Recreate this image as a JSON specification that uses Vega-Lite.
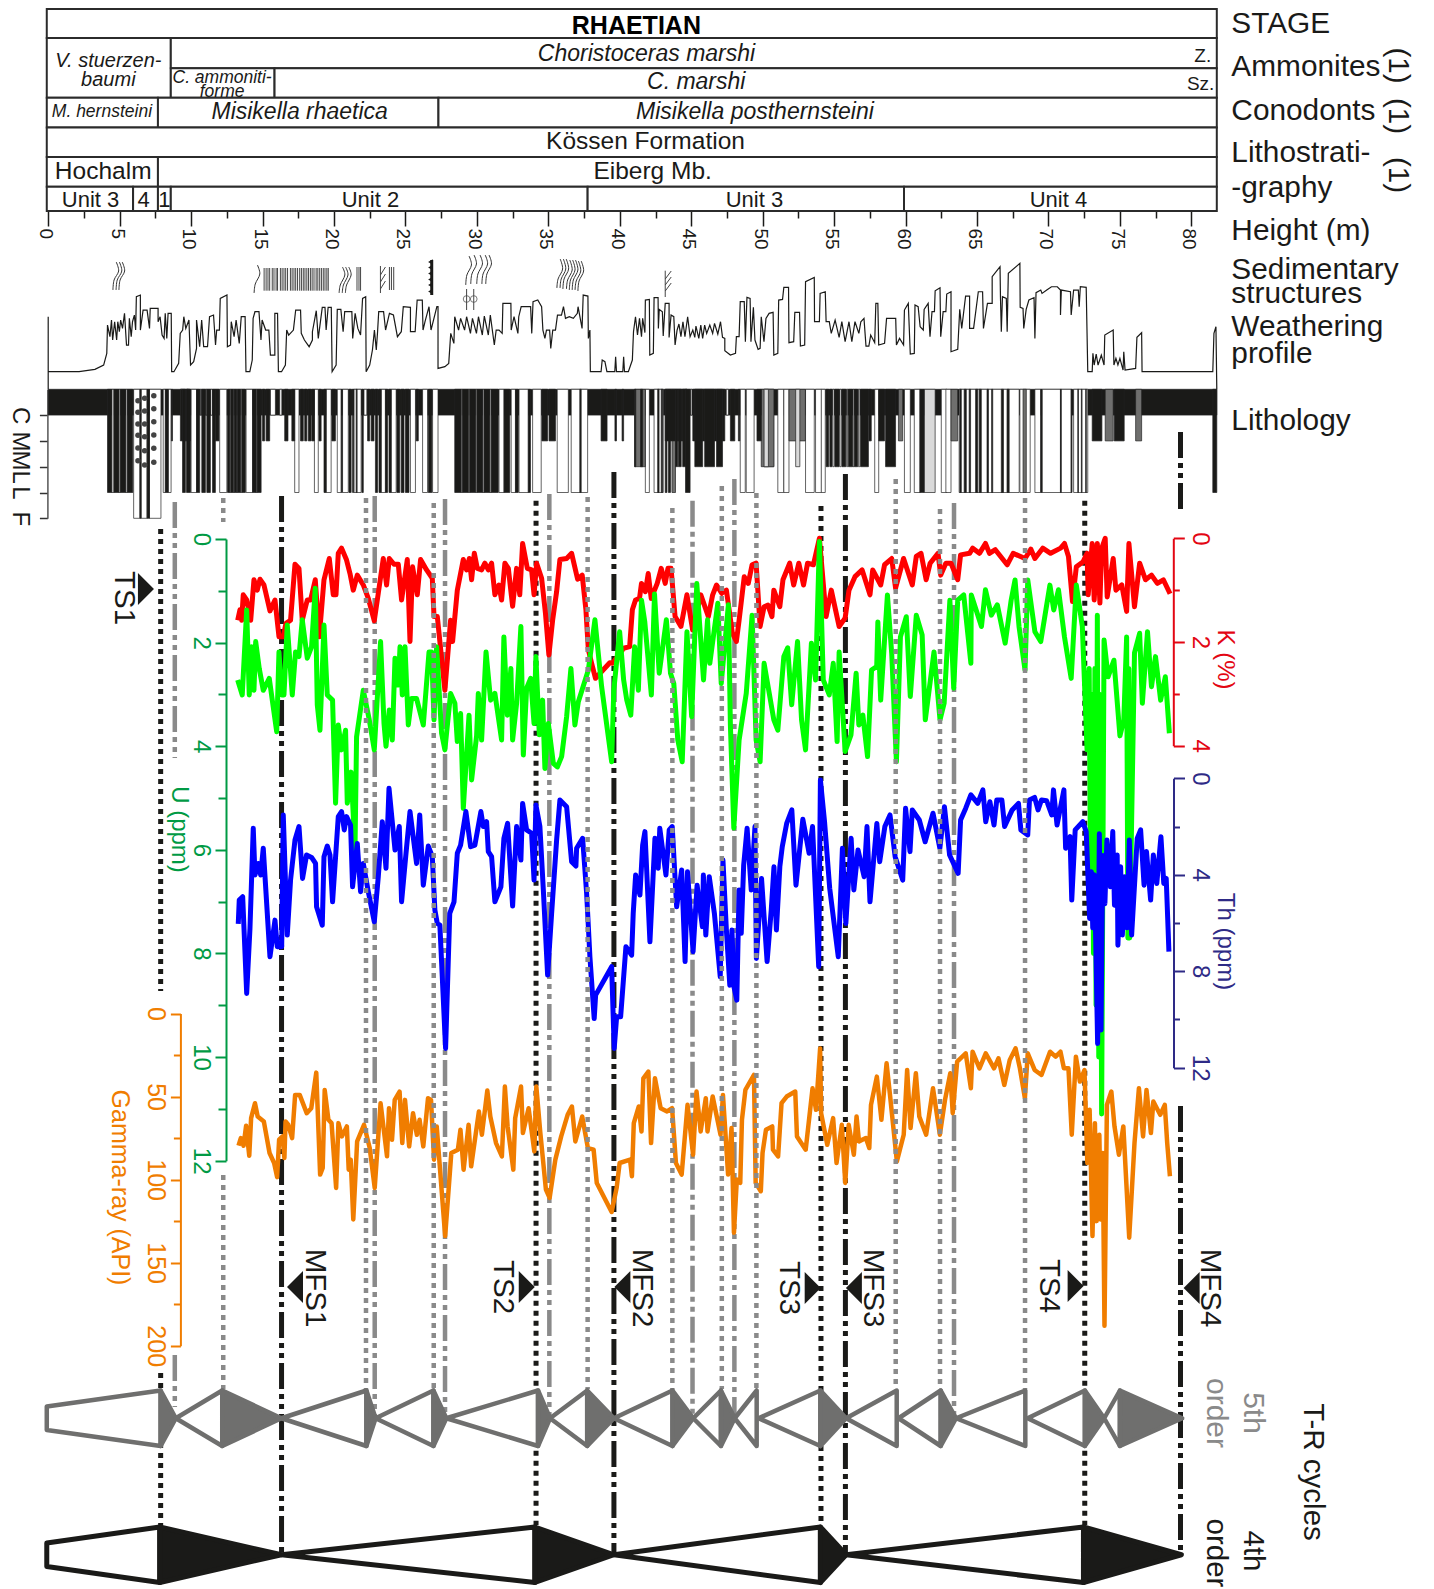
{"$schema":"https://vega.github.io/schema/vega-lite/v6.json","width":1434,"height":1589,"padding":0,"autosize":"none","background":"#ffffff",
"config":{"view":{"stroke":null},"font":"Liberation Sans","axis":{"grid":false,"labelFont":"Liberation Sans","titleFont":"Liberation Sans","titleFontWeight":"normal"}},
"encoding":{"x":{"field":"m","type":"quantitative","scale":{"domain":[-3.373,96.98],"range":[0,1434]},"axis":{"orient":"bottom","offset":-1378,"title":null,"domain":false,"values":[0,2.5,5,7.5,10,12.5,15,17.5,20,22.5,25,27.5,30,32.5,35,37.5,40,42.5,45,47.5,50,52.5,55,57.5,60,62.5,65,67.5,70,72.5,75,77.5,80],"tickColor":"#1a1a18","tickWidth":1.5,"tickSize":{"condition":{"test":"datum.value % 5 == 0","value":15},"value":7},"labelExpr":"datum.value % 5 == 0 ? datum.value : ''","labelAngle":90,"labelAlign":"left","labelBaseline":"middle","labelFontSize":19,"labelColor":"#1a1a18","labelPadding":2,"labelOffset":-2.5,"labelOverlap":false}}},
"resolve":{"scale":{"y":"independent","fill":"independent"},"axis":{"y":"independent"}},
"layer":[
{"data":{"values":[{"m":-0.1,"b":81.78,"t":0.9,"e":3.8},{"m":-0.1,"b":8.58,"t":3.8,"e":9.78},{"m":8.58,"b":81.78,"t":3.8,"e":6.82},{"m":8.58,"b":15.84,"t":6.82,"e":9.78},{"m":15.84,"b":81.78,"t":6.82,"e":9.78},{"m":-0.1,"b":7.68,"t":9.78,"e":12.74},{"m":7.68,"b":27.31,"t":9.78,"e":12.74},{"m":27.31,"b":81.78,"t":9.78,"e":12.74},{"m":-0.1,"b":81.78,"t":12.74,"e":15.7},{"m":-0.1,"b":7.68,"t":15.7,"e":18.68},{"m":7.68,"b":81.78,"t":15.7,"e":18.68},{"m":-0.1,"b":5.94,"t":18.68,"e":21.1},{"m":5.94,"b":7.68,"t":18.68,"e":21.1},{"m":7.68,"b":8.58,"t":18.68,"e":21.1},{"m":8.58,"b":37.75,"t":18.68,"e":21.1},{"m":37.75,"b":59.89,"t":18.68,"e":21.1},{"m":59.89,"b":81.78,"t":18.68,"e":21.1}]},
"mark":{"type":"rect","fill":"#ffffff","stroke":"#2b2b2b","strokeWidth":2},"encoding":{"x2":{"field":"b"},"y":{"field":"t","type":"quantitative","scale":{"domain":[0,158.9],"range":[0,1589]},"axis":null},"y2":{"field":"e"}}},
{"data":{"values":[{"t":"RHAETIAN","m":41.16,"y":2.6}]},"mark":{"type":"text","fontSize":25,"fontWeight":"bold","color":"#000000","baseline":"middle"},"encoding":{"text":{"field":"t"},"y":{"field":"y","type":"quantitative","scale":{"domain":[0,158.9],"range":[0,1589]},"axis":null}}},
{"data":{"values":[{"t":"Choristoceras marshi","m":41.87,"y":5.35},{"t":"C. marshi","m":45.35,"y":8.2},{"t":"Misikella rhaetica","m":17.6,"y":11.2},{"t":"Misikella posthernsteini","m":49.46,"y":11.2}]},"mark":{"type":"text","fontSize":23,"fontStyle":"italic","color":"#1a1a18","baseline":"middle"},"encoding":{"text":{"field":"t"},"y":{"field":"y","type":"quantitative","scale":{"domain":[0,158.9],"range":[0,1589]},"axis":null}}},
{"data":{"values":[{"t":"V. stuerzen-","m":4.21,"y":6.05},{"t":"baumi","m":4.21,"y":7.95}]},"mark":{"type":"text","fontSize":20,"fontStyle":"italic","color":"#1a1a18","baseline":"middle"},"encoding":{"text":{"field":"t"},"y":{"field":"y","type":"quantitative","scale":{"domain":[0,158.9],"range":[0,1589]},"axis":null}}},
{"data":{"values":[{"t":"C. ammoniti-","m":12.17,"y":7.75},{"t":"forme","m":12.17,"y":9.15},{"t":"M. hernsteini","m":3.76,"y":11.2}]},"mark":{"type":"text","fontSize":17.5,"fontStyle":"italic","color":"#1a1a18","baseline":"middle"},"encoding":{"text":{"field":"t"},"y":{"field":"y","type":"quantitative","scale":{"domain":[0,158.9],"range":[0,1589]},"axis":null}}},
{"data":{"values":[{"t":"Z.","m":80.8,"y":5.55},{"t":"Sz.","m":80.65,"y":8.4}]},"mark":{"type":"text","fontSize":19,"color":"#1a1a18","baseline":"middle"},"encoding":{"text":{"field":"t"},"y":{"field":"y","type":"quantitative","scale":{"domain":[0,158.9],"range":[0,1589]},"axis":null}}},
{"data":{"values":[{"t":"Kössen Formation","m":41.8,"y":14.2},{"t":"Eiberg Mb.","m":42.3,"y":17.2},{"t":"Hochalm","m":3.85,"y":17.2}]},"mark":{"type":"text","fontSize":24.5,"color":"#1a1a18","baseline":"middle"},"encoding":{"text":{"field":"t"},"y":{"field":"y","type":"quantitative","scale":{"domain":[0,158.9],"range":[0,1589]},"axis":null}}},
{"data":{"values":[{"t":"Unit 3","m":2.96,"y":20},{"t":"4","m":6.68,"y":20},{"t":"1","m":8.13,"y":20},{"t":"Unit 2","m":22.55,"y":20},{"t":"Unit 3","m":49.42,"y":20},{"t":"Unit 4","m":70.7,"y":20}]},"mark":{"type":"text","fontSize":22,"color":"#1a1a18","baseline":"middle"},"encoding":{"text":{"field":"t"},"y":{"field":"y","type":"quantitative","scale":{"domain":[0,158.9],"range":[0,1589]},"axis":null}}},
{"data":{"values":[{"t":"STAGE","m":82.8,"y":2.35},{"t":"Ammonites","m":82.8,"y":6.7},{"t":"Conodonts","m":82.8,"y":11.1},{"t":"Lithostrati-","m":82.8,"y":15.3},{"t":"-graphy","m":82.8,"y":18.75},{"t":"Height (m)","m":82.8,"y":23.1},{"t":"Sedimentary","m":82.8,"y":27.0},{"t":"structures","m":82.8,"y":29.4},{"t":"Weathering","m":82.8,"y":32.65},{"t":"profile","m":82.8,"y":35.4},{"t":"Lithology","m":82.8,"y":42.1}]},"mark":{"type":"text","fontSize":29.8,"align":"left","color":"#1a1a18","baseline":"middle"},"encoding":{"text":{"field":"t"},"y":{"field":"y","type":"quantitative","scale":{"domain":[0,158.9],"range":[0,1589]},"axis":null}}},
{"data":{"values":[{"t":"(1)","m":94.46,"y":6.55},{"t":"(1)","m":94.46,"y":11.6},{"t":"(1)","m":94.46,"y":17.5},{"t":"TS1","m":5.28,"y":59.8},{"t":"TS2","m":31.83,"y":128.7},{"t":"MFS1","m":18.67,"y":128.8},{"t":"MFS2","m":41.52,"y":128.8},{"t":"TS3","m":51.87,"y":128.8},{"t":"MFS3","m":57.75,"y":128.8},{"t":"TS4","m":70.07,"y":128.6},{"t":"MFS4","m":81.3,"y":128.8},{"t":"T-R cycles","m":88.5,"y":147.2},{"t":"4th","m":84.34,"y":155.1},{"t":"order","m":81.7,"y":155.3}]},"mark":{"type":"text","fontSize":29.5,"angle":90,"color":"#1a1a18","baseline":"middle"},"encoding":{"text":{"field":"t"},"y":{"field":"y","type":"quantitative","scale":{"domain":[0,158.9],"range":[0,1589]},"axis":null}}},
{"data":{"values":[{"t":"5th","m":84.34,"y":141.3},{"t":"order","m":81.7,"y":141.3}]},"mark":{"type":"text","fontSize":30,"angle":90,"color":"#8a8a8a","baseline":"middle"},"encoding":{"text":{"field":"t"},"y":{"field":"y","type":"quantitative","scale":{"domain":[0,158.9],"range":[0,1589]},"axis":null}}},
{"data":{"values":[{"id":1,"m":4.76,"y":26.2},{"id":1,"m":4.93,"y":27.1},{"id":1,"m":4.61,"y":28},{"id":1,"m":4.53,"y":29},{"id":2,"m":4.98,"y":26.2},{"id":2,"m":5.15,"y":27.1},{"id":2,"m":4.83,"y":28},{"id":2,"m":4.75,"y":29},{"id":3,"m":5.18,"y":26.2},{"id":3,"m":5.35,"y":27.1},{"id":3,"m":5.03,"y":28},{"id":3,"m":4.95,"y":29},{"id":4,"m":14.64,"y":26.5},{"id":4,"m":14.81,"y":27.4},{"id":4,"m":14.49,"y":28.4},{"id":4,"m":14.41,"y":29.3},{"id":5,"m":20.59,"y":26.7},{"id":5,"m":20.76,"y":27.5},{"id":5,"m":20.44,"y":28.5},{"id":5,"m":20.36,"y":29.3},{"id":6,"m":20.81,"y":26.7},{"id":6,"m":20.98,"y":27.5},{"id":6,"m":20.66,"y":28.5},{"id":6,"m":20.58,"y":29.3},{"id":7,"m":21.03,"y":26.7},{"id":7,"m":21.2,"y":27.5},{"id":7,"m":20.88,"y":28.5},{"id":7,"m":20.8,"y":29.3},{"id":8,"m":29.45,"y":25.6},{"id":8,"m":29.62,"y":26.5},{"id":8,"m":29.3,"y":27.5},{"id":8,"m":29.22,"y":28.5},{"id":9,"m":29.8,"y":25.5},{"id":9,"m":29.97,"y":26.4},{"id":9,"m":29.65,"y":27.4},{"id":9,"m":29.57,"y":28.4},{"id":10,"m":30.22,"y":25.5},{"id":10,"m":30.39,"y":26.4},{"id":10,"m":30.07,"y":27.4},{"id":10,"m":29.99,"y":28.4},{"id":11,"m":30.58,"y":25.5},{"id":11,"m":30.75,"y":26.4},{"id":11,"m":30.43,"y":27.4},{"id":11,"m":30.35,"y":28.4},{"id":12,"m":30.85,"y":25.5},{"id":12,"m":31.02,"y":26.4},{"id":12,"m":30.7,"y":27.4},{"id":12,"m":30.62,"y":28.4},{"id":13,"m":35.83,"y":25.9},{"id":13,"m":36,"y":26.9},{"id":13,"m":35.68,"y":27.9},{"id":13,"m":35.6,"y":28.8},{"id":14,"m":36.05,"y":25.9},{"id":14,"m":36.22,"y":26.9},{"id":14,"m":35.9,"y":27.9},{"id":14,"m":35.82,"y":28.8},{"id":15,"m":36.25,"y":25.9},{"id":15,"m":36.42,"y":26.9},{"id":15,"m":36.1,"y":27.9},{"id":15,"m":36.02,"y":28.9},{"id":16,"m":36.5,"y":26},{"id":16,"m":36.67,"y":27},{"id":16,"m":36.35,"y":28},{"id":16,"m":36.27,"y":28.9},{"id":17,"m":36.7,"y":26},{"id":17,"m":36.87,"y":27},{"id":17,"m":36.55,"y":28},{"id":17,"m":36.47,"y":29},{"id":18,"m":36.9,"y":26},{"id":18,"m":37.07,"y":27},{"id":18,"m":36.75,"y":28},{"id":18,"m":36.67,"y":29},{"id":19,"m":37.1,"y":26.1},{"id":19,"m":37.27,"y":27.1},{"id":19,"m":36.95,"y":28.1},{"id":19,"m":36.87,"y":29},{"id":20,"m":37.3,"y":26.1},{"id":20,"m":37.47,"y":27.1},{"id":20,"m":37.15,"y":28.1},{"id":20,"m":37.07,"y":29.1}]},"mark":{"type":"line","interpolate":"cardinal","stroke":"#333333","strokeWidth":1},"encoding":{"detail":{"field":"id"},"order":{"value":null},"y":{"field":"y","type":"quantitative","scale":{"domain":[0,158.9],"range":[0,1589]},"axis":null}}},
{"data":{"values":[{"m":15.11,"b":15.11,"y":26.8,"e":29.07},{"m":15.25,"b":15.25,"y":26.8,"e":29.07},{"m":15.38,"b":15.38,"y":26.8,"e":29.07},{"m":15.5,"b":15.5,"y":26.8,"e":29.07},{"m":15.68,"b":15.68,"y":26.8,"e":29.07},{"m":15.8,"b":15.8,"y":26.8,"e":29.07},{"m":15.95,"b":15.95,"y":26.8,"e":29.07},{"m":16.05,"b":16.05,"y":26.8,"e":29.07},{"m":16.25,"b":16.25,"y":26.8,"e":29.07},{"m":16.37,"b":16.37,"y":26.8,"e":29.07},{"m":16.5,"b":16.5,"y":26.8,"e":29.07},{"m":16.62,"b":16.62,"y":26.8,"e":29.07},{"m":16.75,"b":16.75,"y":26.8,"e":29.07},{"m":16.95,"b":16.95,"y":26.8,"e":29.07},{"m":17.07,"b":17.07,"y":26.8,"e":29.07},{"m":17.2,"b":17.2,"y":26.8,"e":29.07},{"m":17.32,"b":17.32,"y":26.8,"e":29.07},{"m":17.45,"b":17.45,"y":26.8,"e":29.07},{"m":17.6,"b":17.6,"y":26.8,"e":29.07},{"m":17.72,"b":17.72,"y":26.8,"e":29.07},{"m":17.85,"b":17.85,"y":26.8,"e":29.07},{"m":17.97,"b":17.97,"y":26.8,"e":29.07},{"m":18.1,"b":18.1,"y":26.8,"e":29.07},{"m":18.22,"b":18.22,"y":26.8,"e":29.07},{"m":18.35,"b":18.35,"y":26.8,"e":29.07},{"m":18.47,"b":18.47,"y":26.8,"e":29.07},{"m":18.6,"b":18.6,"y":26.8,"e":29.07},{"m":18.75,"b":18.75,"y":26.8,"e":29.07},{"m":18.87,"b":18.87,"y":26.8,"e":29.07},{"m":19.0,"b":19.0,"y":26.8,"e":29.07},{"m":19.12,"b":19.12,"y":26.8,"e":29.07},{"m":19.25,"b":19.25,"y":26.8,"e":29.07},{"m":19.37,"b":19.37,"y":26.8,"e":29.07},{"m":19.5,"b":19.5,"y":26.8,"e":29.07},{"m":19.6,"b":19.6,"y":26.8,"e":29.07},{"m":21.61,"b":21.61,"y":26.7,"e":29.07},{"m":21.75,"b":21.75,"y":26.7,"e":29.07},{"m":21.86,"b":21.86,"y":26.7,"e":29.07},{"m":23.88,"b":23.88,"y":26.7,"e":29},{"m":24.02,"b":24.02,"y":26.7,"e":29},{"m":24.18,"b":24.18,"y":26.7,"e":29},{"m":23.25,"b":23.25,"y":26.6,"e":29.3},{"m":23.25,"b":23.6,"y":27.5,"e":26.7},{"m":23.25,"b":23.6,"y":28.2,"e":27.4},{"m":23.25,"b":23.6,"y":28.9,"e":28.1},{"m":43.18,"b":43.18,"y":27.07,"e":29.7},{"m":43.18,"b":43.6,"y":27.9,"e":27.1},{"m":43.18,"b":43.6,"y":28.5,"e":27.7},{"m":43.18,"b":43.6,"y":29.1,"e":28.3},{"m":29.28,"b":29.28,"y":28.9,"e":31},{"m":29.78,"b":29.78,"y":28.9,"e":31}]},"mark":{"type":"rule","stroke":"#444444","strokeWidth":1},"encoding":{"x2":{"field":"b"},"y":{"field":"y","type":"quantitative","scale":{"domain":[0,158.9],"range":[0,1589]},"axis":null},"y2":{"field":"e"}}},
{"data":{"values":[{"m":26.84,"y":26,"e":29.5}]},"mark":{"type":"rule","stroke":"#1a1a18","strokeWidth":3},"encoding":{"y":{"field":"y","type":"quantitative","scale":{"domain":[0,158.9],"range":[0,1589]},"axis":null},"y2":{"field":"e"}}},
{"data":{"values":[{"m":26.75,"y":26.2},{"m":26.75,"y":26.75},{"m":26.75,"y":27.35},{"m":26.75,"y":27.95},{"m":26.75,"y":28.5},{"m":26.75,"y":29.15}]},"mark":{"type":"point","shape":"triangle-left","filled":true,"size":28,"color":"#1a1a18","opacity":1},"encoding":{"y":{"field":"y","type":"quantitative","scale":{"domain":[0,158.9],"range":[0,1589]},"axis":null}}},
{"data":{"values":[{"m":29.28,"y":29.9},{"m":29.78,"y":29.9}]},"mark":{"type":"point","shape":"circle","filled":false,"size":45,"color":"#444444","strokeWidth":1},"encoding":{"y":{"field":"y","type":"quantitative","scale":{"domain":[0,158.9],"range":[0,1589]},"axis":null}}},
{"data":{"values":[{"m":0,"v":1.65},{"m":0,"v":-0.53},{"m":0,"v":0},{"m":2.16,"v":0},{"m":3.27,"v":0.07},{"m":3.88,"v":0.2},{"m":4.1,"v":0.55},{"m":4.15,"v":1.4},{"m":4.32,"v":1.05},{"m":4.43,"v":1.55},{"m":4.51,"v":0.95},{"m":4.65,"v":1.5},{"m":4.79,"v":0.95},{"m":4.87,"v":1.5},{"m":4.98,"v":1.2},{"m":5.07,"v":1.55},{"m":5.2,"v":1.3},{"m":5.34,"v":1.75},{"m":5.48,"v":0.8},{"m":5.62,"v":0.8},{"m":5.68,"v":1.6},{"m":5.81,"v":1.05},{"m":5.9,"v":1.5},{"m":6.03,"v":1.7},{"m":6.12,"v":1.25},{"m":6.17,"v":2.25},{"m":6.45,"v":2.3},{"m":6.45,"v":1.25},{"m":6.64,"v":1.85},{"m":6.92,"v":1.85},{"m":7.09,"v":1.3},{"m":7.14,"v":1.9},{"m":7.47,"v":1.9},{"m":7.69,"v":1.9},{"m":7.69,"v":1.5},{"m":7.83,"v":1.65},{"m":7.97,"v":1.1},{"m":8.11,"v":1.0},{"m":8.19,"v":1.75},{"m":8.3,"v":1.0},{"m":8.39,"v":1.75},{"m":8.61,"v":1.75},{"m":8.64,"v":0},{"m":8.8,"v":0},{"m":9.13,"v":0.25},{"m":9.24,"v":1.15},{"m":9.41,"v":1.25},{"m":9.49,"v":1.65},{"m":9.63,"v":1.3},{"m":9.85,"v":1.55},{"m":9.96,"v":0.2},{"m":10.18,"v":0.3},{"m":10.38,"v":0.7},{"m":10.38,"v":1.55},{"m":10.6,"v":0.75},{"m":10.74,"v":1.55},{"m":10.88,"v":0.75},{"m":11.15,"v":0.75},{"m":11.29,"v":1.65},{"m":11.57,"v":1.7},{"m":11.71,"v":0.8},{"m":11.79,"v":1.25},{"m":11.98,"v":1.25},{"m":12.04,"v":2.2},{"m":12.51,"v":2.3},{"m":12.54,"v":0.75},{"m":12.76,"v":0.8},{"m":12.81,"v":1.5},{"m":13.01,"v":1.05},{"m":13.15,"v":1.55},{"m":13.37,"v":0.85},{"m":13.51,"v":1.65},{"m":13.78,"v":1.65},{"m":13.84,"v":0},{"m":14.11,"v":0},{"m":14.28,"v":0.35},{"m":14.34,"v":1.6},{"m":14.47,"v":1.8},{"m":14.75,"v":1.8},{"m":14.89,"v":0.95},{"m":14.97,"v":1.55},{"m":15.22,"v":1.25},{"m":15.44,"v":1.25},{"m":15.55,"v":0.5},{"m":15.86,"v":0.5},{"m":15.86,"v":1.75},{"m":16.05,"v":1.75},{"m":16.11,"v":0},{"m":16.33,"v":0},{"m":16.6,"v":0.2},{"m":16.69,"v":1.25},{"m":16.83,"v":1.1},{"m":17.16,"v":1.25},{"m":17.32,"v":1.85},{"m":17.66,"v":1.85},{"m":17.71,"v":1.15},{"m":17.93,"v":0.95},{"m":18.26,"v":0.75},{"m":18.49,"v":0.95},{"m":18.49,"v":1.2},{"m":18.76,"v":1.83},{"m":18.9,"v":1.0},{"m":19.18,"v":1.93},{"m":19.37,"v":1.93},{"m":19.45,"v":1.25},{"m":19.59,"v":1.93},{"m":19.81,"v":1.93},{"m":19.87,"v":0},{"m":20.15,"v":0.2},{"m":20.23,"v":1.87},{"m":20.48,"v":1.87},{"m":20.64,"v":1.2},{"m":20.75,"v":1.8},{"m":21.25,"v":1.8},{"m":21.31,"v":1.0},{"m":21.48,"v":1.75},{"m":21.67,"v":1.3},{"m":21.86,"v":1.1},{"m":22,"v":2.2},{"m":22.22,"v":2.25},{"m":22.25,"v":0},{"m":22.5,"v":0.2},{"m":22.69,"v":0.65},{"m":22.83,"v":1.25},{"m":22.96,"v":0.65},{"m":23.05,"v":1.2},{"m":23.13,"v":1.8},{"m":23.47,"v":1.8},{"m":23.61,"v":1.25},{"m":23.88,"v":1.75},{"m":24.16,"v":1.7},{"m":24.44,"v":1.05},{"m":24.71,"v":1.2},{"m":24.85,"v":1.95},{"m":25.35,"v":1.93},{"m":25.35,"v":1.2},{"m":25.68,"v":1.2},{"m":25.82,"v":2.15},{"m":26.18,"v":2.15},{"m":26.23,"v":1.25},{"m":26.37,"v":1.5},{"m":26.65,"v":1.95},{"m":26.79,"v":1.25},{"m":27.2,"v":1.95},{"m":27.28,"v":1.95},{"m":27.28,"v":0.1},{"m":27.76,"v":0.15},{"m":28.03,"v":0.25},{"m":28.17,"v":1.15},{"m":28.39,"v":0.85},{"m":28.45,"v":1.65},{"m":28.72,"v":1.25},{"m":28.86,"v":1.6},{"m":29.14,"v":1.25},{"m":29.28,"v":1.65},{"m":29.55,"v":1.15},{"m":29.69,"v":1.6},{"m":29.97,"v":1.15},{"m":30.11,"v":1.65},{"m":30.38,"v":1.1},{"m":30.52,"v":1.67},{"m":30.8,"v":1.1},{"m":30.94,"v":1.7},{"m":31.22,"v":0.8},{"m":31.35,"v":1.25},{"m":31.55,"v":1.25},{"m":31.77,"v":1.15},{"m":31.82,"v":2.05},{"m":32.38,"v":2.05},{"m":32.4,"v":1.25},{"m":32.6,"v":1.65},{"m":32.87,"v":1.15},{"m":32.93,"v":1.65},{"m":33.1,"v":1.95},{"m":33.76,"v":1.95},{"m":33.84,"v":1.15},{"m":33.93,"v":2.1},{"m":34.26,"v":2.15},{"m":34.53,"v":1.95},{"m":34.62,"v":1.25},{"m":34.76,"v":1.0},{"m":34.87,"v":1.25},{"m":35.09,"v":1.25},{"m":35.17,"v":0.7},{"m":35.31,"v":1.25},{"m":35.5,"v":1.25},{"m":35.64,"v":1.7},{"m":35.92,"v":1.7},{"m":36.06,"v":1.95},{"m":36.2,"v":1.6},{"m":36.47,"v":1.65},{"m":36.75,"v":1.6},{"m":37.03,"v":1.75},{"m":37.08,"v":1.95},{"m":37.36,"v":1.3},{"m":37.44,"v":2.3},{"m":37.77,"v":2.27},{"m":37.8,"v":1.0},{"m":37.91,"v":1.25},{"m":37.94,"v":0},{"m":38.69,"v":0},{"m":38.77,"v":0.35},{"m":38.96,"v":0.3},{"m":39.1,"v":0},{"m":39.65,"v":0},{"m":39.71,"v":0.45},{"m":39.77,"v":0},{"m":40.21,"v":0},{"m":40.27,"v":0.45},{"m":40.33,"v":0},{"m":40.6,"v":0},{"m":40.88,"v":0.35},{"m":40.96,"v":1.2},{"m":41.1,"v":1.65},{"m":41.24,"v":1.1},{"m":41.38,"v":1.6},{"m":41.52,"v":1.05},{"m":41.6,"v":1.6},{"m":41.76,"v":1.17},{"m":41.79,"v":2.15},{"m":42.07,"v":2.17},{"m":42.1,"v":0.5},{"m":42.35,"v":0.55},{"m":42.4,"v":2.22},{"m":42.68,"v":2.22},{"m":42.7,"v":1.3},{"m":42.76,"v":1.87},{"m":42.98,"v":1.8},{"m":43.04,"v":1.07},{"m":43.18,"v":2.05},{"m":43.45,"v":2.05},{"m":43.45,"v":1.03},{"m":43.59,"v":1.7},{"m":43.78,"v":1.65},{"m":43.87,"v":0.8},{"m":44.01,"v":1.25},{"m":44.14,"v":1.43},{"m":44.28,"v":1.05},{"m":44.42,"v":1.5},{"m":44.56,"v":1.05},{"m":44.75,"v":1.65},{"m":44.92,"v":1.05},{"m":45.11,"v":1.25},{"m":45.25,"v":1.03},{"m":45.33,"v":1.37},{"m":45.53,"v":1.0},{"m":45.67,"v":1.4},{"m":45.8,"v":1.0},{"m":45.94,"v":1.4},{"m":46.08,"v":1.15},{"m":46.3,"v":1.4},{"m":46.5,"v":1.15},{"m":46.63,"v":1.45},{"m":46.86,"v":1.13},{"m":47.05,"v":1.5},{"m":47.19,"v":1.03},{"m":47.35,"v":1.0},{"m":47.35,"v":0.63},{"m":47.74,"v":0.5},{"m":48.1,"v":0.55},{"m":48.16,"v":1.05},{"m":48.35,"v":1.05},{"m":48.43,"v":2.1},{"m":48.71,"v":2.1},{"m":48.79,"v":0.9},{"m":48.9,"v":2.23},{"m":49.12,"v":2.2},{"m":49.18,"v":0.9},{"m":49.35,"v":1.93},{"m":49.46,"v":0.95},{"m":49.68,"v":0.67},{"m":49.82,"v":0.7},{"m":49.9,"v":1.65},{"m":50.09,"v":0.9},{"m":50.23,"v":1.6},{"m":50.45,"v":1.75},{"m":50.73,"v":1.78},{"m":50.78,"v":0.5},{"m":51.06,"v":0.55},{"m":51.12,"v":2.15},{"m":51.39,"v":2.17},{"m":51.48,"v":2.53},{"m":51.81,"v":2.53},{"m":51.84,"v":0.87},{"m":52.17,"v":0.9},{"m":52.25,"v":1.78},{"m":52.58,"v":1.78},{"m":52.64,"v":0.77},{"m":52.94,"v":0.8},{"m":53,"v":2.7},{"m":53.61,"v":2.83},{"m":53.63,"v":1.5},{"m":53.97,"v":1.5},{"m":54.02,"v":2.35},{"m":54.38,"v":2.4},{"m":54.44,"v":1.5},{"m":54.66,"v":1.5},{"m":54.8,"v":1.15},{"m":55.07,"v":1.55},{"m":55.35,"v":1.03},{"m":55.54,"v":1.5},{"m":55.77,"v":0.9},{"m":56.04,"v":1.5},{"m":56.24,"v":0.9},{"m":56.46,"v":1.5},{"m":56.73,"v":1.15},{"m":56.87,"v":1.5},{"m":57.09,"v":1.6},{"m":57.23,"v":0.77},{"m":57.43,"v":0.77},{"m":57.56,"v":1.1},{"m":57.84,"v":0.87},{"m":57.92,"v":2.05},{"m":58.06,"v":2.05},{"m":58.12,"v":0.8},{"m":58.53,"v":0.85},{"m":58.67,"v":1.6},{"m":59.09,"v":1.6},{"m":59.31,"v":1.6},{"m":59.36,"v":0.8},{"m":59.58,"v":1.0},{"m":59.86,"v":0.8},{"m":59.92,"v":1.85},{"m":60.19,"v":2.05},{"m":60.33,"v":0.53},{"m":60.61,"v":0.55},{"m":60.66,"v":2.0},{"m":60.88,"v":1.95},{"m":61.02,"v":1.35},{"m":61.24,"v":1.25},{"m":61.3,"v":1.87},{"m":61.58,"v":2.05},{"m":61.71,"v":1.05},{"m":61.85,"v":1.8},{"m":62.02,"v":1.8},{"m":62.07,"v":2.43},{"m":62.41,"v":2.52},{"m":62.46,"v":1.05},{"m":62.63,"v":1.8},{"m":62.82,"v":1.8},{"m":62.88,"v":2.33},{"m":63.18,"v":2.4},{"m":63.18,"v":0.6},{"m":63.65,"v":0.67},{"m":63.79,"v":1.87},{"m":63.93,"v":1.3},{"m":64.2,"v":2.27},{"m":64.48,"v":2.27},{"m":64.48,"v":1.3},{"m":64.76,"v":1.3},{"m":65.09,"v":2.4},{"m":65.39,"v":2.4},{"m":65.45,"v":1.3},{"m":65.73,"v":2.05},{"m":66.06,"v":2.05},{"m":66.06,"v":2.85},{"m":66.61,"v":3.15},{"m":66.64,"v":2.25},{"m":66.7,"v":1.2},{"m":66.78,"v":2.25},{"m":67.05,"v":2.2},{"m":67.11,"v":1.2},{"m":67.19,"v":2.95},{"m":68,"v":3.25},{"m":68.02,"v":1.93},{"m":68.22,"v":1.9},{"m":68.27,"v":1.3},{"m":68.44,"v":1.87},{"m":68.63,"v":2.15},{"m":68.99,"v":2.22},{"m":69.05,"v":1.0},{"m":69.13,"v":2.37},{"m":69.46,"v":2.45},{"m":69.55,"v":2.35},{"m":69.88,"v":2.45},{"m":70.21,"v":2.55},{"m":70.62,"v":2.55},{"m":70.84,"v":2.45},{"m":70.84,"v":1.7},{"m":70.9,"v":2.45},{"m":71.54,"v":2.4},{"m":71.59,"v":1.7},{"m":71.76,"v":2.45},{"m":72.09,"v":2.45},{"m":72.15,"v":1.95},{"m":72.23,"v":2.55},{"m":72.64,"v":2.53},{"m":72.75,"v":0},{"m":73.06,"v":0},{"m":73.11,"v":0.55},{"m":73.2,"v":0.2},{"m":73.34,"v":0.53},{"m":73.47,"v":0.2},{"m":73.7,"v":0.5},{"m":73.89,"v":0.2},{"m":73.94,"v":1.1},{"m":74.53,"v":1.25},{"m":74.58,"v":0.2},{"m":74.72,"v":0.4},{"m":74.86,"v":0.2},{"m":75,"v":0.4},{"m":75.22,"v":0.05},{"m":75.27,"v":0.6},{"m":75.36,"v":0.05},{"m":76.1,"v":0.1},{"m":76.19,"v":1.03},{"m":76.52,"v":1.17},{"m":76.55,"v":0},{"m":81.5,"v":0},{"m":81.58,"v":1.15},{"m":81.72,"v":1.35},{"m":81.78,"v":-0.53}]},"mark":{"type":"line","stroke":"#1a1a18","strokeWidth":1.2},"encoding":{"order":{"value":null},"y":{"field":"v","type":"quantitative","scale":{"domain":[0,3.25],"range":[371.7,263.4]},"axis":null}}},
{"data":{"values":[{"m":0,"b":81.78,"g":1,"k":"d"},{"m":4.45,"b":4.6,"g":4,"k":"w"},{"m":4.95,"b":5.05,"g":4,"k":"w"},{"m":5.43,"b":5.54,"g":4,"k":"w"},{"m":5.98,"b":6.42,"g":5,"k":"w"},{"m":6.5,"b":6.92,"g":5,"k":"w"},{"m":7.09,"b":7.89,"g":5,"k":"w"},{"m":8.05,"b":8.2,"g":4,"k":"w"},{"m":8.4,"b":8.6,"g":4,"k":"w"},{"m":9.27,"b":9.4,"g":1,"k":"w"},{"m":9.7,"b":9.82,"g":1,"k":"w"},{"m":10.0,"b":10.38,"g":4,"k":"w"},{"m":10.65,"b":10.72,"g":1,"k":"w"},{"m":11.02,"b":11.1,"g":1,"k":"w"},{"m":11.36,"b":11.48,"g":1,"k":"w"},{"m":12.0,"b":12.5,"g":4,"k":"w"},{"m":12.7,"b":12.78,"g":4,"k":"w"},{"m":12.95,"b":13.02,"g":4,"k":"w"},{"m":13.18,"b":13.25,"g":4,"k":"w"},{"m":13.45,"b":13.55,"g":4,"k":"w"},{"m":13.85,"b":14.3,"g":4,"k":"w"},{"m":14.55,"b":14.62,"g":4,"k":"w"},{"m":15.55,"b":15.9,"g":1,"k":"w"},{"m":16.2,"b":16.35,"g":1,"k":"w"},{"m":17.25,"b":17.55,"g":4,"k":"w"},{"m":18.63,"b":18.9,"g":4,"k":"w"},{"m":19.45,"b":19.8,"g":4,"k":"w"},{"m":20.23,"b":20.5,"g":4,"k":"w"},{"m":20.6,"b":21.0,"g":4,"k":"w"},{"m":21.4,"b":21.9,"g":4,"k":"w"},{"m":22.1,"b":22.3,"g":1,"k":"w"},{"m":23.3,"b":23.6,"g":4,"k":"w"},{"m":24.0,"b":24.35,"g":4,"k":"w"},{"m":25.35,"b":25.7,"g":4,"k":"w"},{"m":26.2,"b":26.55,"g":4,"k":"w"},{"m":26.9,"b":27.28,"g":4,"k":"w"},{"m":28.9,"b":29.0,"g":4,"k":"w"},{"m":29.4,"b":29.5,"g":4,"k":"w"},{"m":29.9,"b":30.0,"g":4,"k":"w"},{"m":30.4,"b":30.5,"g":4,"k":"w"},{"m":30.9,"b":31.0,"g":4,"k":"w"},{"m":31.55,"b":31.9,"g":4,"k":"w"},{"m":32.4,"b":32.7,"g":4,"k":"w"},{"m":32.95,"b":33.6,"g":4,"k":"w"},{"m":33.9,"b":34.5,"g":4,"k":"w"},{"m":35.62,"b":36.4,"g":4,"k":"w"},{"m":36.6,"b":37.75,"g":4,"k":"w"},{"m":41.79,"b":42.07,"g":4,"k":"w"},{"m":42.4,"b":43.04,"g":4,"k":"w"},{"m":43.3,"b":43.4,"g":1,"k":"w"},{"m":43.55,"b":43.65,"g":1,"k":"w"},{"m":44.05,"b":44.1,"g":1,"k":"w"},{"m":44.95,"b":45.05,"g":1,"k":"w"},{"m":45.85,"b":45.92,"g":1,"k":"w"},{"m":46.68,"b":46.75,"g":1,"k":"w"},{"m":47.45,"b":47.6,"g":1,"k":"w"},{"m":48.43,"b":48.78,"g":4,"k":"w"},{"m":48.85,"b":49.4,"g":4,"k":"w"},{"m":50.1,"b":50.78,"g":3,"k":"w"},{"m":51.06,"b":51.48,"g":4,"k":"w"},{"m":51.48,"b":51.84,"g":4,"k":"w"},{"m":53,"b":53.61,"g":4,"k":"w"},{"m":53.7,"b":54.12,"g":4,"k":"w"},{"m":54.1,"b":54.38,"g":4,"k":"w"},{"m":54.9,"b":55.0,"g":3,"k":"w"},{"m":55.4,"b":55.5,"g":3,"k":"w"},{"m":55.88,"b":55.95,"g":3,"k":"w"},{"m":56.32,"b":56.4,"g":3,"k":"w"},{"m":56.7,"b":56.8,"g":3,"k":"w"},{"m":57.84,"b":58.12,"g":4,"k":"w"},{"m":59.92,"b":60.33,"g":4,"k":"w"},{"m":60.61,"b":61.02,"g":4,"k":"w"},{"m":62.5,"b":62.9,"g":4,"k":"w"},{"m":62.82,"b":63.18,"g":4,"k":"w"},{"m":63.75,"b":67.95,"g":4,"k":"w"},{"m":68.0,"b":68.72,"g":4,"k":"w"},{"m":69.05,"b":69.46,"g":4,"k":"w"},{"m":69.55,"b":70.84,"g":4,"k":"w"},{"m":70.84,"b":71.59,"g":4,"k":"w"},{"m":71.76,"b":72.75,"g":4,"k":"w"},{"m":41.04,"b":41.79,"g":3,"k":"g"},{"m":43.65,"b":43.9,"g":4,"k":"g"},{"m":51.84,"b":52.99,"g":2,"k":"g"},{"m":52.31,"b":52.6,"g":3,"k":"p"},{"m":49.9,"b":50.78,"g":3,"k":"g"},{"m":50.1,"b":50.4,"g":3,"k":"p"},{"m":59.5,"b":59.8,"g":2,"k":"g"},{"m":61.3,"b":62.07,"g":4,"k":"p"},{"m":63.18,"b":63.65,"g":2,"k":"g"},{"m":68.22,"b":68.45,"g":4,"k":"g"},{"m":73.97,"b":74.53,"g":2,"k":"g"},{"m":76.1,"b":76.52,"g":2,"k":"g"},{"m":4.15,"b":4.45,"g":4,"k":"d"},{"m":4.6,"b":4.95,"g":4,"k":"d"},{"m":5.05,"b":5.43,"g":4,"k":"d"},{"m":5.54,"b":5.92,"g":4,"k":"d"},{"m":6.42,"b":6.5,"g":5,"k":"d"},{"m":6.92,"b":7.09,"g":5,"k":"d"},{"m":8.2,"b":8.4,"g":4,"k":"d"},{"m":8.62,"b":8.7,"g":2,"k":"d"},{"m":9.25,"b":9.96,"g":2,"k":"d"},{"m":9.4,"b":9.6,"g":4,"k":"d"},{"m":9.68,"b":9.96,"g":4,"k":"d"},{"m":10.38,"b":10.6,"g":4,"k":"d"},{"m":10.75,"b":11.0,"g":4,"k":"d"},{"m":11.1,"b":11.35,"g":4,"k":"d"},{"m":11.5,"b":11.7,"g":4,"k":"d"},{"m":11.7,"b":11.95,"g":2,"k":"d"},{"m":12.55,"b":12.7,"g":4,"k":"d"},{"m":12.78,"b":12.95,"g":4,"k":"d"},{"m":13.02,"b":13.18,"g":4,"k":"d"},{"m":13.25,"b":13.45,"g":4,"k":"d"},{"m":13.55,"b":13.8,"g":4,"k":"d"},{"m":14.3,"b":14.55,"g":4,"k":"d"},{"m":14.62,"b":14.9,"g":4,"k":"d"},{"m":15.0,"b":15.15,"g":2,"k":"d"},{"m":15.25,"b":15.5,"g":2,"k":"d"},{"m":16.55,"b":16.78,"g":2,"k":"d"},{"m":17.05,"b":17.25,"g":2,"k":"d"},{"m":17.66,"b":17.85,"g":2,"k":"d"},{"m":17.95,"b":18.1,"g":2,"k":"d"},{"m":18.2,"b":18.4,"g":2,"k":"d"},{"m":18.45,"b":18.63,"g":2,"k":"d"},{"m":18.95,"b":19.1,"g":2,"k":"d"},{"m":19.3,"b":19.45,"g":4,"k":"d"},{"m":19.85,"b":20.1,"g":2,"k":"d"},{"m":20.52,"b":20.58,"g":4,"k":"d"},{"m":21.05,"b":21.2,"g":4,"k":"d"},{"m":21.3,"b":21.38,"g":4,"k":"d"},{"m":21.55,"b":21.62,"g":4,"k":"d"},{"m":21.95,"b":22.05,"g":4,"k":"d"},{"m":22.35,"b":22.5,"g":2,"k":"d"},{"m":22.6,"b":22.8,"g":2,"k":"d"},{"m":22.9,"b":23.05,"g":4,"k":"d"},{"m":23.15,"b":23.3,"g":4,"k":"d"},{"m":23.6,"b":23.75,"g":4,"k":"d"},{"m":23.85,"b":24.0,"g":4,"k":"d"},{"m":24.4,"b":24.6,"g":4,"k":"d"},{"m":24.7,"b":24.9,"g":4,"k":"d"},{"m":25.0,"b":25.25,"g":4,"k":"d"},{"m":25.75,"b":25.9,"g":2,"k":"d"},{"m":26.6,"b":26.85,"g":4,"k":"d"},{"m":28.45,"b":28.9,"g":4,"k":"d"},{"m":29.0,"b":29.4,"g":4,"k":"d"},{"m":29.5,"b":29.9,"g":4,"k":"d"},{"m":30.0,"b":30.4,"g":4,"k":"d"},{"m":30.5,"b":30.9,"g":4,"k":"d"},{"m":31.0,"b":31.5,"g":4,"k":"d"},{"m":31.9,"b":32.3,"g":4,"k":"d"},{"m":32.7,"b":32.9,"g":4,"k":"d"},{"m":33.6,"b":33.75,"g":4,"k":"d"},{"m":34.55,"b":34.95,"g":2,"k":"d"},{"m":35.05,"b":35.5,"g":2,"k":"d"},{"m":37.2,"b":37.3,"g":4,"k":"d"},{"m":38.69,"b":39.11,"g":2,"k":"d"},{"m":39.66,"b":39.77,"g":2,"k":"d"},{"m":40.16,"b":40.27,"g":2,"k":"d"},{"m":41.04,"b":41.12,"g":3,"k":"d"},{"m":41.45,"b":41.6,"g":3,"k":"d"},{"m":42.65,"b":42.75,"g":4,"k":"d"},{"m":42.9,"b":43.0,"g":4,"k":"d"},{"m":43.18,"b":43.3,"g":4,"k":"d"},{"m":43.4,"b":43.55,"g":4,"k":"d"},{"m":43.18,"b":44.7,"g":2,"k":"d"},{"m":43.9,"b":44.05,"g":3,"k":"d"},{"m":44.1,"b":44.3,"g":3,"k":"d"},{"m":44.4,"b":44.7,"g":3,"k":"d"},{"m":44.6,"b":44.92,"g":4,"k":"d"},{"m":45.11,"b":47.35,"g":2,"k":"d"},{"m":45.25,"b":45.8,"g":3,"k":"d"},{"m":45.94,"b":46.63,"g":3,"k":"d"},{"m":46.77,"b":47.19,"g":3,"k":"d"},{"m":47.74,"b":48.05,"g":2,"k":"d"},{"m":48.3,"b":48.4,"g":2,"k":"d"},{"m":49.6,"b":49.9,"g":2,"k":"d"},{"m":54.44,"b":54.62,"g":3,"k":"d"},{"m":54.7,"b":54.85,"g":3,"k":"d"},{"m":55.05,"b":55.35,"g":3,"k":"d"},{"m":55.55,"b":55.82,"g":3,"k":"d"},{"m":56.0,"b":56.3,"g":3,"k":"d"},{"m":56.42,"b":56.65,"g":3,"k":"d"},{"m":56.85,"b":57.4,"g":3,"k":"d"},{"m":57.43,"b":57.6,"g":2,"k":"d"},{"m":58.12,"b":58.53,"g":2,"k":"d"},{"m":58.6,"b":59.3,"g":3,"k":"d"},{"m":61.0,"b":61.3,"g":4,"k":"d"},{"m":63.8,"b":63.9,"g":4,"k":"d"},{"m":64.1,"b":64.25,"g":4,"k":"d"},{"m":64.45,"b":64.55,"g":4,"k":"d"},{"m":64.9,"b":65.05,"g":4,"k":"d"},{"m":65.15,"b":65.3,"g":4,"k":"d"},{"m":65.7,"b":65.8,"g":4,"k":"d"},{"m":66.02,"b":66.1,"g":4,"k":"d"},{"m":66.7,"b":66.85,"g":4,"k":"d"},{"m":67.1,"b":67.25,"g":4,"k":"d"},{"m":69.46,"b":69.55,"g":4,"k":"d"},{"m":70.84,"b":70.9,"g":4,"k":"d"},{"m":71.59,"b":71.65,"g":4,"k":"d"},{"m":72.05,"b":72.1,"g":4,"k":"d"},{"m":72.3,"b":72.35,"g":4,"k":"d"},{"m":72.6,"b":72.65,"g":4,"k":"d"},{"m":73.06,"b":73.74,"g":2,"k":"d"},{"m":74.6,"b":75.3,"g":2,"k":"d"},{"m":81.5,"b":81.78,"g":4,"k":"d"}]},"mark":{"type":"rect","stroke":"#222222","strokeWidth":0.7},"encoding":{"x2":{"field":"b"},"fill":{"field":"k","type":"nominal","scale":{"domain":["w","p","g","d"],"range":["#ffffff","#d9d9d9","#6f6f6e","#1a1a18"]},"legend":null},"y":{"field":"g","type":"quantitative","scale":{"domain":[0,5],"range":[389.3,518.3]},"axis":{"orient":"left","offset":-47.4,"title":null,"values":[1,2,3,4,5],"domainColor":"#555555","domainWidth":1.5,"tickColor":"#333333","tickWidth":1.5,"tickSize":8,"labelExpr":"['','C','M','ML','L','F'][datum.value]","labelAngle":90,"labelAlign":"center","labelBaseline":"top","labelFontSize":24,"labelColor":"#1a1a18","labelPadding":8,"labelOverlap":false}},"y2":{"datum":0}}},
{"data":{"values":[{"m":6.28,"y":40.07},{"m":6.28,"y":41.23},{"m":6.28,"y":42.4},{"m":6.28,"y":43.53},{"m":6.28,"y":44.8},{"m":6.28,"y":46.07},{"m":6.75,"y":39.83},{"m":6.75,"y":41.1},{"m":6.75,"y":42.4},{"m":6.75,"y":43.67},{"m":6.75,"y":45.07},{"m":6.75,"y":46.5},{"m":7.39,"y":39.57},{"m":7.39,"y":40.87},{"m":7.39,"y":42.17},{"m":7.39,"y":43.5},{"m":7.39,"y":44.83},{"m":7.39,"y":46.23}]},"mark":{"type":"point","shape":"circle","filled":true,"size":30,"color":"#444444","opacity":1},"encoding":{"y":{"field":"y","type":"quantitative","scale":{"domain":[0,158.9],"range":[0,1589]},"axis":null}}},
{"data":{"values":[{"m":7.87,"y":52.9,"e":99.1},{"m":7.87,"y":137.3,"e":152.5},{"m":34.14,"y":50.07,"e":152.5},{"m":54.08,"y":50.6,"e":152.5},{"m":72.54,"y":50.07,"e":152.5}]},"mark":{"type":"rule","stroke":"#1a1a18","strokeWidth":5,"strokeDash":[5,5]},"encoding":{"y":{"field":"y","type":"quantitative","scale":{"domain":[0,158.9],"range":[0,1589]},"axis":null},"y2":{"field":"e"}}},
{"data":{"values":[{"m":16.33,"y":49.6,"e":155.5},{"m":39.59,"y":47.2,"e":155.5},{"m":55.79,"y":47.4,"e":155.5},{"m":79.24,"y":43.2,"e":51.2},{"m":79.24,"y":110.6,"e":155.5}]},"mark":{"type":"rule","stroke":"#1a1a18","strokeWidth":5,"strokeDash":[26,5,5,5,5,5]},"encoding":{"y":{"field":"y","type":"quantitative","scale":{"domain":[0,158.9],"range":[0,1589]},"axis":null},"y2":{"field":"e"}}},
{"data":{"values":[{"m":8.86,"y":50.2,"e":75.8},{"m":8.86,"y":135.5,"e":140.7},{"m":22.85,"y":49.6,"e":141.8},{"m":27.77,"y":49.9,"e":141.8},{"m":35.07,"y":49.4,"e":141.8},{"m":45.09,"y":50.07,"e":141.8},{"m":48.02,"y":47.9,"e":141.8},{"m":63.39,"y":50.3,"e":141.8}]},"mark":{"type":"rule","stroke":"#8a8a8a","strokeWidth":4.5,"strokeDash":[26,5,5,5,5,5]},"encoding":{"y":{"field":"y","type":"quantitative","scale":{"domain":[0,158.9],"range":[0,1589]},"axis":null},"y2":{"field":"e"}}},
{"data":{"values":[{"m":13.26,"v":1.58},{"m":13.42,"v":1.38},{"m":13.54,"v":1.58},{"m":13.65,"v":1.09},{"m":13.89,"v":1.19},{"m":14.17,"v":1.58},{"m":14.4,"v":0.8},{"m":14.63,"v":1.0},{"m":14.82,"v":0.79},{"m":15.1,"v":0.9},{"m":15.52,"v":1.4},{"m":15.87,"v":1.19},{"m":16.15,"v":1.9},{"m":16.45,"v":1.9},{"m":16.64,"v":1.64},{"m":16.96,"v":1.58},{"m":17.27,"v":0.5},{"m":17.55,"v":0.58},{"m":17.78,"v":1.58},{"m":18.13,"v":1.19},{"m":18.36,"v":1.19},{"m":18.69,"v":0.8},{"m":18.97,"v":1.9},{"m":19.3,"v":0.8},{"m":19.67,"v":0.39},{"m":19.95,"v":1.09},{"m":20.14,"v":1.09},{"m":20.3,"v":0.29},{"m":20.53,"v":0.19},{"m":20.88,"v":0.42},{"m":21.12,"v":0.68},{"m":21.35,"v":1.0},{"m":21.63,"v":0.71},{"m":22.05,"v":0.9},{"m":22.4,"v":1.16},{"m":22.82,"v":1.59},{"m":23.1,"v":1.06},{"m":23.45,"v":0.39},{"m":23.68,"v":0.9},{"m":23.87,"v":0.39},{"m":24.2,"v":0.5},{"m":24.5,"v":0.5},{"m":24.73,"v":1.19},{"m":25.13,"v":0.41},{"m":25.32,"v":1.99},{"m":25.5,"v":0.55},{"m":25.83,"v":1.09},{"m":26.06,"v":0.41},{"m":26.48,"v":0.61},{"m":26.88,"v":0.77},{"m":27.0,"v":1.51},{"m":27.23,"v":1.51},{"m":27.76,"v":2.93},{"m":28.16,"v":1.58},{"m":28.3,"v":1.99},{"m":28.63,"v":1.0},{"m":29.05,"v":0.41},{"m":29.28,"v":0.61},{"m":29.47,"v":0.39},{"m":29.63,"v":0.8},{"m":29.82,"v":0.29},{"m":30.03,"v":0.58},{"m":30.33,"v":0.61},{"m":30.56,"v":0.48},{"m":30.8,"v":0.61},{"m":31.03,"v":0.48},{"m":31.26,"v":1.09},{"m":31.54,"v":0.9},{"m":31.73,"v":1.19},{"m":31.96,"v":0.48},{"m":32.2,"v":0.58},{"m":32.5,"v":1.31},{"m":32.78,"v":0.58},{"m":33.0,"v":1.09},{"m":33.2,"v":0.1},{"m":33.53,"v":0.58},{"m":33.83,"v":0.61},{"m":34.0,"v":1.09},{"m":34.18,"v":0.48},{"m":34.53,"v":0.77},{"m":34.8,"v":1.45},{"m":35.04,"v":2.25},{"m":35.3,"v":1.58},{"m":35.58,"v":1.03},{"m":35.81,"v":0.41},{"m":36.28,"v":0.39},{"m":36.63,"v":0.29},{"m":37.05,"v":0.79},{"m":37.37,"v":0.71},{"m":37.63,"v":1.38},{"m":37.8,"v":2.15},{"m":38.03,"v":2.41},{"m":38.3,"v":2.7},{"m":39.3,"v":2.4},{"m":39.5,"v":2.41},{"m":40.27,"v":2.12},{"m":40.69,"v":2.09},{"m":40.88,"v":1.38},{"m":41.1,"v":1.19},{"m":41.38,"v":1.16},{"m":41.52,"v":0.87},{"m":41.79,"v":1.03},{"m":41.99,"v":0.68},{"m":42.2,"v":1.16},{"m":42.62,"v":0.87},{"m":42.9,"v":0.58},{"m":43.18,"v":0.87},{"m":43.37,"v":0.58},{"m":43.59,"v":0.58},{"m":43.87,"v":1.51},{"m":44.28,"v":1.7},{"m":44.7,"v":1.09},{"m":45.1,"v":1.77},{"m":45.67,"v":1.09},{"m":46.2,"v":1.51},{"m":46.5,"v":1.09},{"m":46.77,"v":0.9},{"m":47.13,"v":1.06},{"m":47.46,"v":1.0},{"m":47.88,"v":1.83},{"m":48.16,"v":1.99},{"m":48.35,"v":1.58},{"m":48.71,"v":0.74},{"m":48.99,"v":0.87},{"m":49.26,"v":0.51},{"m":49.54,"v":0.48},{"m":49.82,"v":1.7},{"m":50.1,"v":1.32},{"m":50.37,"v":1.29},{"m":50.65,"v":1.51},{"m":50.78,"v":1.0},{"m":51.2,"v":1.32},{"m":51.42,"v":0.8},{"m":51.89,"v":0.48},{"m":52.17,"v":0.9},{"m":52.53,"v":0.48},{"m":52.86,"v":0.9},{"m":53.14,"v":0.48},{"m":53.55,"v":0.51},{"m":53.97,"v":0},{"m":54.44,"v":1.51},{"m":54.8,"v":1.0},{"m":55.35,"v":1.7},{"m":55.77,"v":1.54},{"m":56.04,"v":1.0},{"m":56.46,"v":0.74},{"m":56.96,"v":0.61},{"m":57.51,"v":1.09},{"m":57.7,"v":0.61},{"m":58.26,"v":0.9},{"m":58.53,"v":0.51},{"m":59.03,"v":0.39},{"m":59.3,"v":0.96},{"m":59.86,"v":0.39},{"m":60.47,"v":0.9},{"m":60.75,"v":0.35},{"m":61.08,"v":0.29},{"m":61.44,"v":0.8},{"m":61.72,"v":0.48},{"m":62.27,"v":0.29},{"m":62.46,"v":0.71},{"m":62.82,"v":0.48},{"m":63.18,"v":0.48},{"m":63.65,"v":0.8},{"m":63.85,"v":0.32},{"m":64.48,"v":0.29},{"m":64.7,"v":0.19},{"m":65.17,"v":0.29},{"m":65.59,"v":0.1},{"m":65.87,"v":0.29},{"m":66.28,"v":0.22},{"m":67.11,"v":0.51},{"m":67.53,"v":0.29},{"m":68.36,"v":0.39},{"m":68.77,"v":0.21},{"m":69.05,"v":0.39},{"m":69.6,"v":0.19},{"m":70.15,"v":0.29},{"m":70.85,"v":0.19},{"m":71.12,"v":0.1},{"m":71.4,"v":0.35},{"m":71.68,"v":1.22},{"m":71.95,"v":0.55},{"m":72.43,"v":0.45},{"m":72.7,"v":0.29},{"m":72.78,"v":1.09},{"m":73.06,"v":0.1},{"m":73.2,"v":1.19},{"m":73.42,"v":0.1},{"m":73.6,"v":1.25},{"m":73.72,"v":0.2},{"m":73.97,"v":0},{"m":74.11,"v":1.13},{"m":74.53,"v":0.39},{"m":74.72,"v":1.0},{"m":75.13,"v":0.9},{"m":75.47,"v":1.41},{"m":75.63,"v":0.1},{"m":76.02,"v":1.32},{"m":76.38,"v":0.48},{"m":76.79,"v":0.8},{"m":77.21,"v":0.71},{"m":77.62,"v":0.87},{"m":78.04,"v":0.8},{"m":78.51,"v":1.07}]},"mark":{"type":"line","stroke":"#ff0000","strokeWidth":5,"strokeJoin":"round"},"encoding":{"y":{"field":"v","type":"quantitative","scale":{"domain":[0,4],"range":[538.3,745.7]},"axis":{"orient":"right","offset":-260.7,"title":"K (%)","titleAngle":90,"titleColor":"#e30613","titleFontSize":24,"titleX":51,"titleY":659,"titleAlign":"center","titleBaseline":"middle","values":[0,1,2,3,4],"domainColor":"#e30613","domainWidth":2,"tickColor":"#e30613","tickWidth":2,"tickSize":{"condition":{"test":"datum.value % 2 == 0","value":11},"value":6},"labelExpr":"datum.value % 2 == 0 ? datum.value : ''","labelAngle":90,"labelAlign":"center","labelBaseline":"bottom","labelFontSize":24,"labelColor":"#e30613","labelPadding":3,"labelOverlap":false}}}},
{"data":{"values":[{"m":13.26,"v":2.72},{"m":13.58,"v":3.01},{"m":13.89,"v":1.37},{"m":14.07,"v":3.01},{"m":14.24,"v":2.08},{"m":14.4,"v":2.92},{"m":14.52,"v":1.98},{"m":14.77,"v":2.5},{"m":15.05,"v":2.92},{"m":15.47,"v":2.69},{"m":15.99,"v":3.72},{"m":16.15,"v":2.18},{"m":16.34,"v":3.01},{"m":16.5,"v":3.01},{"m":16.73,"v":1.66},{"m":17.08,"v":3.01},{"m":17.31,"v":2.18},{"m":17.55,"v":2.27},{"m":17.78,"v":1.56},{"m":18.13,"v":2.3},{"m":18.43,"v":2.08},{"m":18.69,"v":0.95},{"m":18.83,"v":3.2},{"m":19.02,"v":3.69},{"m":19.3,"v":1.66},{"m":19.53,"v":3.01},{"m":19.9,"v":3.11},{"m":20.11,"v":5.1},{"m":20.3,"v":3.59},{"m":20.53,"v":4.07},{"m":20.81,"v":3.69},{"m":20.93,"v":5.1},{"m":21.2,"v":4.5},{"m":21.47,"v":6.0},{"m":21.58,"v":3.82},{"m":22.05,"v":2.92},{"m":22.47,"v":3.49},{"m":22.82,"v":4.07},{"m":23.26,"v":1.98},{"m":23.5,"v":3.56},{"m":23.64,"v":4.0},{"m":23.87,"v":3.3},{"m":24.08,"v":3.88},{"m":24.27,"v":2.3},{"m":24.5,"v":2.82},{"m":24.62,"v":2.08},{"m":24.78,"v":3.01},{"m":24.97,"v":2.08},{"m":25.2,"v":3.59},{"m":25.43,"v":3.08},{"m":25.78,"v":3.08},{"m":26.25,"v":3.59},{"m":26.65,"v":2.18},{"m":26.83,"v":2.18},{"m":27.0,"v":3.49},{"m":27.18,"v":2.08},{"m":27.53,"v":3.75},{"m":27.76,"v":4.07},{"m":28.16,"v":2.98},{"m":28.46,"v":3.17},{"m":28.63,"v":3.91},{"m":28.86,"v":3.37},{"m":29.05,"v":5.2},{"m":29.45,"v":3.4},{"m":29.63,"v":4.65},{"m":29.98,"v":3.8},{"m":30.1,"v":2.98},{"m":30.33,"v":3.88},{"m":30.64,"v":2.18},{"m":30.96,"v":3.11},{"m":31.26,"v":2.98},{"m":31.73,"v":3.88},{"m":31.89,"v":1.89},{"m":32.13,"v":3.4},{"m":32.38,"v":2.5},{"m":32.5,"v":3.88},{"m":32.78,"v":3.17},{"m":33.08,"v":1.69},{"m":33.25,"v":4.17},{"m":33.48,"v":2.88},{"m":33.76,"v":2.69},{"m":34.0,"v":3.56},{"m":34.13,"v":2.27},{"m":34.37,"v":3.78},{"m":34.6,"v":3.11},{"m":34.76,"v":4.43},{"m":35.0,"v":3.56},{"m":35.35,"v":4.33},{"m":35.63,"v":4.4},{"m":35.93,"v":4.2},{"m":36.28,"v":3.43},{"m":36.58,"v":2.5},{"m":36.86,"v":3.59},{"m":37.1,"v":3.14},{"m":37.8,"v":2.53},{"m":38.26,"v":1.56},{"m":38.73,"v":2.85},{"m":39.43,"v":4.3},{"m":39.58,"v":2.92},{"m":39.99,"v":1.79},{"m":40.27,"v":2.72},{"m":40.49,"v":3.11},{"m":40.77,"v":3.4},{"m":41.04,"v":2.08},{"m":41.3,"v":2.92},{"m":41.52,"v":1.18},{"m":41.75,"v":1.6},{"m":42.21,"v":3.01},{"m":42.43,"v":1.06},{"m":42.76,"v":2.59},{"m":43.26,"v":1.56},{"m":43.55,"v":2.59},{"m":43.78,"v":2.79},{"m":44.06,"v":3.88},{"m":44.37,"v":4.3},{"m":44.7,"v":1.79},{"m":45.03,"v":3.43},{"m":45.39,"v":0.86},{"m":45.86,"v":2.72},{"m":46.14,"v":1.56},{"m":46.3,"v":2.4},{"m":46.86,"v":1.24},{"m":47.1,"v":2.79},{"m":47.6,"v":1.27},{"m":47.74,"v":3.59},{"m":47.98,"v":5.58},{"m":48.35,"v":3.88},{"m":48.85,"v":2.98},{"m":49.26,"v":1.47},{"m":49.54,"v":3.88},{"m":49.82,"v":4.3},{"m":50.1,"v":2.4},{"m":50.78,"v":3.49},{"m":51.06,"v":3.69},{"m":51.48,"v":2.27},{"m":51.75,"v":2.1},{"m":52.03,"v":3.2},{"m":52.44,"v":1.98},{"m":52.72,"v":3.49},{"m":53.0,"v":4.07},{"m":53.41,"v":2.01},{"m":53.7,"v":2.72},{"m":53.97,"v":0.05},{"m":54.24,"v":2.72},{"m":54.66,"v":3.01},{"m":54.94,"v":2.4},{"m":55.21,"v":3.91},{"m":55.35,"v":2.18},{"m":55.77,"v":4.1},{"m":56.18,"v":3.78},{"m":56.54,"v":2.59},{"m":56.73,"v":3.59},{"m":57.01,"v":3.4},{"m":57.34,"v":4.2},{"m":57.62,"v":2.53},{"m":57.98,"v":2.46},{"m":58.06,"v":1.6},{"m":58.26,"v":3.11},{"m":58.73,"v":1.08},{"m":59.03,"v":2.21},{"m":59.36,"v":4.3},{"m":59.64,"v":1.89},{"m":60.05,"v":1.5},{"m":60.33,"v":3.04},{"m":60.75,"v":1.47},{"m":61.16,"v":1.85},{"m":61.38,"v":3.49},{"m":61.99,"v":2.18},{"m":62.41,"v":3.49},{"m":62.7,"v":3.17},{"m":63.1,"v":1.18},{"m":63.37,"v":2.88},{"m":63.65,"v":1.18},{"m":64.07,"v":1.08},{"m":64.57,"v":2.4},{"m":64.6,"v":1.08},{"m":65.31,"v":1.69},{"m":65.59,"v":0.98},{"m":66.0,"v":1.47},{"m":66.42,"v":1.27},{"m":66.97,"v":2.01},{"m":67.39,"v":1.18},{"m":67.66,"v":0.79},{"m":67.94,"v":1.69},{"m":68.36,"v":2.53},{"m":68.55,"v":0.79},{"m":69.05,"v":1.79},{"m":69.46,"v":1.98},{"m":70.1,"v":0.89},{"m":70.37,"v":1.37},{"m":70.7,"v":0.98},{"m":71.12,"v":1.89},{"m":71.59,"v":2.69},{"m":71.95,"v":0.89},{"m":72.37,"v":1.69},{"m":72.7,"v":4.07},{"m":72.85,"v":2.5},{"m":72.95,"v":7},{"m":73.05,"v":3},{"m":73.15,"v":8},{"m":73.25,"v":2.5},{"m":73.33,"v":9},{"m":73.42,"v":1.47},{"m":73.52,"v":10},{"m":73.62,"v":3},{"m":73.72,"v":11.1},{"m":73.89,"v":1.95},{"m":74.17,"v":2.66},{"m":74.58,"v":2.34},{"m":75.0,"v":3.8},{"m":75.27,"v":3.5},{"m":75.47,"v":1.89},{"m":75.56,"v":7.7},{"m":75.62,"v":2.5},{"m":75.68,"v":7.7},{"m":76.02,"v":2.2},{"m":76.38,"v":1.82},{"m":76.57,"v":3.17},{"m":76.93,"v":1.79},{"m":77.21,"v":2.85},{"m":77.49,"v":2.27},{"m":77.85,"v":3.11},{"m":78.18,"v":2.66},{"m":78.46,"v":3.75}]},"mark":{"type":"line","stroke":"#00ff00","strokeWidth":5,"strokeJoin":"round"},"encoding":{"y":{"field":"v","type":"quantitative","scale":{"domain":[0,12],"range":[539,1160.7]},"axis":{"orient":"left","offset":-226,"title":"U (ppm)","titleAngle":90,"titleColor":"#009a44","titleFontSize":24,"titleX":-48,"titleY":829,"titleAlign":"center","titleBaseline":"middle","values":[0,1,2,3,4,5,6,7,8,9,10,11,12],"domainColor":"#009a44","domainWidth":2,"tickColor":"#009a44","tickWidth":2,"tickSize":{"condition":{"test":"datum.value % 2 == 0","value":11},"value":8},"labelExpr":"datum.value % 2 == 0 ? datum.value : ''","labelAngle":90,"labelAlign":"center","labelBaseline":"top","labelFontSize":24,"labelColor":"#009a44","labelPadding":3,"labelOverlap":false}}}},
{"data":{"values":[{"m":13.3,"v":6.04},{"m":13.37,"v":5.05},{"m":13.61,"v":4.91},{"m":13.89,"v":8.92},{"m":14.12,"v":6.22},{"m":14.35,"v":2.07},{"m":14.47,"v":4.01},{"m":14.7,"v":3.53},{"m":14.87,"v":4.01},{"m":15.05,"v":2.9},{"m":15.52,"v":7.4},{"m":15.87,"v":5.88},{"m":16.03,"v":6.98},{"m":16.34,"v":6.98},{"m":16.45,"v":1.52},{"m":16.73,"v":6.5},{"m":16.96,"v":4.22},{"m":17.27,"v":2.56},{"m":17.55,"v":2.0},{"m":17.8,"v":4.15},{"m":18.08,"v":3.18},{"m":18.43,"v":3.28},{"m":18.71,"v":3.53},{"m":18.78,"v":5.33},{"m":19.18,"v":6.09},{"m":19.3,"v":3.25},{"m":19.53,"v":2.81},{"m":19.72,"v":3.18},{"m":19.9,"v":5.12},{"m":20.3,"v":1.59},{"m":20.53,"v":1.38},{"m":20.72,"v":2.14},{"m":20.88,"v":1.59},{"m":21.16,"v":1.94},{"m":21.3,"v":4.5},{"m":21.63,"v":2.7},{"m":21.86,"v":4.7},{"m":22.05,"v":3.53},{"m":22.4,"v":4.7},{"m":22.82,"v":5.95},{"m":23.1,"v":4.08},{"m":23.38,"v":1.8},{"m":23.64,"v":3.73},{"m":23.85,"v":0.41},{"m":24.27,"v":2.97},{"m":24.57,"v":2.0},{"m":24.73,"v":5.12},{"m":25.04,"v":3.11},{"m":25.32,"v":1.38},{"m":25.78,"v":3.53},{"m":26.0,"v":1.52},{"m":26.25,"v":4.43},{"m":26.6,"v":2.81},{"m":26.88,"v":3.25},{"m":27.06,"v":5.46},{"m":27.23,"v":6.02},{"m":27.41,"v":6.09},{"m":27.81,"v":11.2},{"m":28.1,"v":5.6},{"m":28.4,"v":5.12},{"m":28.63,"v":3.11},{"m":28.86,"v":2.77},{"m":29.23,"v":1.38},{"m":29.56,"v":2.84},{"m":29.86,"v":2.77},{"m":30.28,"v":1.38},{"m":30.45,"v":2.0},{"m":30.68,"v":1.8},{"m":30.8,"v":3.04},{"m":31.03,"v":3.25},{"m":31.26,"v":5.12},{"m":31.68,"v":4.5},{"m":31.89,"v":2.49},{"m":32.15,"v":1.87},{"m":32.5,"v":5.3},{"m":32.78,"v":2.0},{"m":33.08,"v":3.39},{"m":33.2,"v":1.04},{"m":33.48,"v":2.14},{"m":33.83,"v":2.28},{"m":34.0,"v":4.22},{"m":34.13,"v":1.11},{"m":34.41,"v":2.0},{"m":34.65,"v":4.63},{"m":34.95,"v":8.16},{"m":35.23,"v":5.6},{"m":35.58,"v":2.56},{"m":35.81,"v":0.9},{"m":36.28,"v":1.18},{"m":36.63,"v":3.46},{"m":36.93,"v":3.64},{"m":36.98,"v":2.9},{"m":37.4,"v":2.49},{"m":37.68,"v":4.77},{"m":37.91,"v":7.4},{"m":38.21,"v":9.96},{"m":38.31,"v":8.99},{"m":39.43,"v":7.81},{"m":39.61,"v":11.2},{"m":39.78,"v":9.89},{"m":40.06,"v":9.89},{"m":40.43,"v":6.98},{"m":40.83,"v":7.33},{"m":40.94,"v":5.6},{"m":41.11,"v":4.01},{"m":41.41,"v":4.84},{"m":41.6,"v":2.77},{"m":41.76,"v":2.21},{"m":42.11,"v":6.78},{"m":42.46,"v":2.49},{"m":42.69,"v":3.73},{"m":42.8,"v":2.07},{"m":43.23,"v":4.01},{"m":43.46,"v":2.14},{"m":43.67,"v":2.0},{"m":43.98,"v":5.33},{"m":44.33,"v":3.8},{"m":44.57,"v":7.6},{"m":44.74,"v":3.87},{"m":45.13,"v":7.19},{"m":45.41,"v":4.43},{"m":45.78,"v":6.15},{"m":45.85,"v":4.01},{"m":46.02,"v":6.5},{"m":46.26,"v":4.08},{"m":46.62,"v":5.6},{"m":47.03,"v":8.23},{"m":47.22,"v":3.39},{"m":47.46,"v":6.29},{"m":47.7,"v":8.58},{"m":47.85,"v":6.29},{"m":47.99,"v":8.64},{"m":48.19,"v":9.2},{"m":48.35,"v":4.63},{"m":48.5,"v":6.43},{"m":48.67,"v":3.6},{"m":48.91,"v":2.07},{"m":49.2,"v":4.63},{"m":49.46,"v":2.0},{"m":49.56,"v":7.47},{"m":49.92,"v":4.15},{"m":50.31,"v":7.6},{"m":50.6,"v":5.46},{"m":50.79,"v":3.67},{"m":50.96,"v":6.29},{"m":51.2,"v":3.67},{"m":51.37,"v":2.84},{"m":51.68,"v":1.87},{"m":52.04,"v":1.31},{"m":52.33,"v":4.43},{"m":52.81,"v":1.7},{"m":53.25,"v":3.11},{"m":53.49,"v":2.0},{"m":53.92,"v":7.81},{"m":54.04,"v":0.07},{"m":54.33,"v":1.8},{"m":54.69,"v":4.56},{"m":55.29,"v":7.4},{"m":55.58,"v":2.9},{"m":55.82,"v":6.02},{"m":56.19,"v":2.49},{"m":56.38,"v":4.63},{"m":56.67,"v":2.97},{"m":57.1,"v":4.08},{"m":57.3,"v":2.0},{"m":57.51,"v":5.12},{"m":57.99,"v":1.87},{"m":58.19,"v":3.46},{"m":58.55,"v":2.0},{"m":58.91,"v":1.52},{"m":59.27,"v":3.25},{"m":59.8,"v":4.22},{"m":60.0,"v":1.24},{"m":60.31,"v":3.04},{"m":60.47,"v":1.31},{"m":60.96,"v":1.73},{"m":61.37,"v":2.63},{"m":61.92,"v":1.45},{"m":62.4,"v":2.9},{"m":62.72,"v":1.18},{"m":63.08,"v":3.18},{"m":63.68,"v":3.94},{"m":63.85,"v":1.73},{"m":64.21,"v":1.24},{"m":64.57,"v":0.69},{"m":65.05,"v":1.04},{"m":65.41,"v":0.48},{"m":65.61,"v":1.8},{"m":65.9,"v":0.97},{"m":66.19,"v":1.94},{"m":66.38,"v":0.9},{"m":66.74,"v":0.9},{"m":66.93,"v":2.0},{"m":67.46,"v":1.31},{"m":67.9,"v":1.04},{"m":68.07,"v":2.14},{"m":68.55,"v":2.35},{"m":68.67,"v":0.9},{"m":69.03,"v":0.79},{"m":69.27,"v":1.31},{"m":69.51,"v":0.9},{"m":69.87,"v":0.93},{"m":70.23,"v":1.52},{"m":70.35,"v":0.48},{"m":70.6,"v":1.94},{"m":71.08,"v":0.48},{"m":71.2,"v":2.9},{"m":71.51,"v":2.42},{"m":71.63,"v":5.05},{"m":71.87,"v":2.14},{"m":72.4,"v":1.8},{"m":72.64,"v":2.21},{"m":72.88,"v":5.81},{"m":73.0,"v":3.87},{"m":73.1,"v":6.2},{"m":73.2,"v":4},{"m":73.3,"v":6.5},{"m":73.44,"v":11.0},{"m":73.56,"v":2.3},{"m":73.68,"v":10.44},{"m":73.8,"v":3.2},{"m":73.95,"v":5.2},{"m":74.09,"v":2.56},{"m":74.33,"v":4.5},{"m":74.5,"v":2.21},{"m":74.62,"v":5.26},{"m":74.81,"v":3.18},{"m":74.86,"v":6.92},{"m":75.05,"v":3.67},{"m":75.17,"v":6.5},{"m":75.34,"v":4.08},{"m":75.5,"v":6.2},{"m":75.66,"v":2.56},{"m":75.82,"v":6.5},{"m":76.21,"v":2.49},{"m":76.45,"v":2.14},{"m":76.69,"v":4.43},{"m":76.86,"v":3.04},{"m":77.15,"v":5.05},{"m":77.34,"v":3.18},{"m":77.58,"v":4.36},{"m":77.87,"v":2.42},{"m":78.07,"v":4.36},{"m":78.24,"v":4.15},{"m":78.43,"v":7.19}]},"mark":{"type":"line","stroke":"#0000ff","strokeWidth":5,"strokeJoin":"round"},"encoding":{"y":{"field":"v","type":"quantitative","scale":{"domain":[0,12],"range":[778.3,1067.7]},"axis":{"orient":"right","offset":-260.5,"title":"Th (ppm)","titleAngle":90,"titleColor":"#2e2a86","titleFontSize":24,"titleX":51,"titleY":941,"titleAlign":"center","titleBaseline":"middle","values":[0,2,4,6,8,10,12],"domainColor":"#2e2a86","domainWidth":2,"tickColor":"#2e2a86","tickWidth":2,"tickSize":{"condition":{"test":"datum.value % 4 == 0","value":11},"value":6},"labelExpr":"datum.value % 4 == 0 ? datum.value : ''","labelAngle":90,"labelAlign":"center","labelBaseline":"bottom","labelFontSize":24,"labelColor":"#2e2a86","labelPadding":3,"labelOverlap":false}}}},
{"data":{"values":[{"m":13.32,"v":79.6},{"m":13.48,"v":75},{"m":13.67,"v":79.6},{"m":13.85,"v":67.6},{"m":14.07,"v":85.6},{"m":14.2,"v":63},{"m":14.47,"v":54},{"m":14.66,"v":62},{"m":15.09,"v":65},{"m":15.49,"v":84},{"m":15.81,"v":90},{"m":16.02,"v":98.5},{"m":16.16,"v":76},{"m":16.4,"v":74},{"m":16.53,"v":87},{"m":16.61,"v":65},{"m":16.8,"v":67},{"m":17.07,"v":75},{"m":17.28,"v":49},{"m":17.6,"v":49},{"m":18.09,"v":60},{"m":18.41,"v":57},{"m":18.76,"v":35.6},{"m":19.03,"v":97},{"m":19.21,"v":93},{"m":19.35,"v":46},{"m":19.61,"v":64},{"m":19.83,"v":66},{"m":20.15,"v":105},{"m":20.31,"v":66},{"m":20.55,"v":74},{"m":20.9,"v":68},{"m":21.03,"v":94},{"m":21.17,"v":88},{"m":21.35,"v":124},{"m":21.62,"v":77},{"m":22.1,"v":67},{"m":22.5,"v":81},{"m":22.85,"v":105},{"m":23.26,"v":54},{"m":23.71,"v":86},{"m":23.85,"v":57},{"m":24.06,"v":76},{"m":24.25,"v":52},{"m":24.59,"v":47},{"m":24.78,"v":78},{"m":24.97,"v":52},{"m":25.26,"v":80},{"m":25.53,"v":60},{"m":25.8,"v":73},{"m":25.99,"v":64},{"m":26.25,"v":80},{"m":26.58,"v":51},{"m":26.79,"v":52},{"m":27.0,"v":88},{"m":27.19,"v":68},{"m":27.78,"v":134},{"m":28.21,"v":84},{"m":28.67,"v":82},{"m":28.85,"v":70},{"m":29.07,"v":94},{"m":29.42,"v":67},{"m":29.6,"v":92},{"m":30.14,"v":59},{"m":30.35,"v":73},{"m":30.73,"v":46.4},{"m":30.94,"v":62},{"m":31.34,"v":78},{"m":31.75,"v":86},{"m":31.96,"v":44},{"m":32.15,"v":68},{"m":32.55,"v":94},{"m":32.68,"v":63},{"m":33.09,"v":44},{"m":33.22,"v":72},{"m":33.62,"v":57},{"m":34.02,"v":83},{"m":34.16,"v":44},{"m":34.43,"v":71},{"m":34.83,"v":106},{"m":35.09,"v":111},{"m":35.49,"v":88},{"m":35.9,"v":74},{"m":36.35,"v":61},{"m":36.65,"v":56},{"m":36.89,"v":77},{"m":37.37,"v":62},{"m":37.77,"v":81},{"m":38.17,"v":82},{"m":38.39,"v":102},{"m":39.43,"v":119.5},{"m":39.78,"v":105},{"m":39.99,"v":90},{"m":40.72,"v":88},{"m":40.85,"v":98},{"m":40.98,"v":66},{"m":41.33,"v":56},{"m":41.52,"v":71},{"m":41.65,"v":39},{"m":42.0,"v":35},{"m":42.19,"v":78},{"m":42.46,"v":39},{"m":42.86,"v":57},{"m":43.31,"v":59},{"m":43.66,"v":57},{"m":43.93,"v":90},{"m":44.33,"v":97},{"m":44.74,"v":55},{"m":45.13,"v":85},{"m":45.37,"v":47},{"m":45.66,"v":71},{"m":46.02,"v":51},{"m":46.14,"v":71},{"m":46.5,"v":50},{"m":47.05,"v":73},{"m":47.22,"v":49},{"m":47.58,"v":97},{"m":47.82,"v":69},{"m":47.99,"v":132},{"m":48.19,"v":100},{"m":48.43,"v":102},{"m":48.55,"v":64},{"m":48.79,"v":46},{"m":49.39,"v":37},{"m":49.51,"v":102},{"m":49.87,"v":107},{"m":49.99,"v":84},{"m":50.23,"v":70},{"m":50.67,"v":68},{"m":50.72,"v":82},{"m":51.08,"v":86},{"m":51.32,"v":54},{"m":51.68,"v":50},{"m":52.28,"v":47},{"m":52.4,"v":74},{"m":53.01,"v":82},{"m":53.49,"v":45},{"m":53.73,"v":58},{"m":54.02,"v":21},{"m":54.09,"v":60},{"m":54.52,"v":79},{"m":54.93,"v":63},{"m":55.17,"v":90},{"m":55.54,"v":67},{"m":55.78,"v":102},{"m":56.02,"v":67},{"m":56.38,"v":85},{"m":56.57,"v":62},{"m":56.74,"v":77},{"m":57.22,"v":75},{"m":57.46,"v":81},{"m":57.58,"v":55},{"m":57.99,"v":38},{"m":58.31,"v":64},{"m":58.67,"v":30},{"m":58.91,"v":49},{"m":59.39,"v":89},{"m":59.87,"v":73},{"m":60.11,"v":34},{"m":60.35,"v":69},{"m":60.72,"v":36},{"m":60.96,"v":62},{"m":61.44,"v":73},{"m":61.92,"v":45},{"m":62.4,"v":73},{"m":62.76,"v":52},{"m":63.13,"v":36},{"m":63.3,"v":60},{"m":63.61,"v":29},{"m":64.21,"v":24},{"m":64.57,"v":45},{"m":64.69,"v":23},{"m":65.17,"v":33},{"m":65.61,"v":24},{"m":66.19,"v":33},{"m":66.5,"v":27},{"m":66.91,"v":43},{"m":67.29,"v":28},{"m":67.7,"v":21},{"m":68.0,"v":33},{"m":68.35,"v":51},{"m":68.55,"v":24},{"m":69.03,"v":34},{"m":69.51,"v":37},{"m":70.11,"v":23},{"m":70.5,"v":26},{"m":70.84,"v":23},{"m":71.08,"v":33},{"m":71.4,"v":33},{"m":71.63,"v":73},{"m":71.92,"v":26},{"m":72.2,"v":41},{"m":72.52,"v":34},{"m":72.72,"v":90},{"m":72.88,"v":58},{"m":73.08,"v":134},{"m":73.25,"v":66},{"m":73.37,"v":125},{"m":73.56,"v":73},{"m":73.66,"v":124},{"m":73.8,"v":84},{"m":73.92,"v":188},{"m":74.09,"v":55},{"m":74.4,"v":47},{"m":74.62,"v":68},{"m":74.93,"v":85},{"m":75.24,"v":68},{"m":75.65,"v":135},{"m":76.02,"v":78},{"m":76.33,"v":45},{"m":76.62,"v":74},{"m":76.86,"v":46},{"m":77.17,"v":72},{"m":77.34,"v":53},{"m":77.82,"v":61},{"m":78.14,"v":55},{"m":78.31,"v":78},{"m":78.5,"v":98}]},"mark":{"type":"line","stroke":"#f07d00","strokeWidth":4.5,"strokeJoin":"round"},"encoding":{"y":{"field":"v","type":"quantitative","scale":{"domain":[0,200],"range":[1013.5,1345.7]},"axis":{"orient":"left","offset":-180.4,"title":"Gamma-ray (API)","titleAngle":90,"titleColor":"#f07d00","titleFontSize":25,"titleX":-61,"titleY":1187,"titleAlign":"center","titleBaseline":"middle","values":[0,25,50,75,100,125,150,175,200],"domainColor":"#f07d00","domainWidth":2,"tickColor":"#f07d00","tickWidth":2,"tickSize":{"condition":{"test":"datum.value % 50 == 0","value":10},"value":7},"labelExpr":"datum.value % 50 == 0 ? datum.value : ''","labelAngle":90,"labelAlign":"center","labelBaseline":"top","labelFontSize":25,"labelColor":"#f07d00","labelPadding":3,"labelOverlap":false}}}},
{"data":{"values":[{"m":12.25,"y":49.8,"e":52.2},{"m":12.25,"y":117.5,"e":138.9},{"m":22.24,"y":49.8,"e":138.9},{"m":26.98,"y":50.3,"e":138.9},{"m":37.75,"y":49.7,"e":138.9},{"m":43.68,"y":50.8,"e":138.9},{"m":47.14,"y":48.6,"e":138.9},{"m":49.56,"y":49.3,"e":138.9},{"m":59.31,"y":47.9,"e":138.9},{"m":62.41,"y":50.9,"e":138.9},{"m":68.36,"y":49.8,"e":138.9}]},"mark":{"type":"rule","stroke":"#8a8a8a","strokeWidth":4.5,"strokeDash":[5,5]},"encoding":{"y":{"field":"y","type":"quantitative","scale":{"domain":[0,158.9],"range":[0,1589]},"axis":null},"y2":{"field":"e"}}},
{"data":{"values":[{"t":"R","m":6.84,"y":58.9},{"t":"L","m":17.27,"y":128.7},{"t":"R","m":33.49,"y":128.7},{"t":"L","m":40.18,"y":128.7},{"t":"R","m":53.5,"y":128.8},{"t":"L","m":56.38,"y":128.8},{"t":"R","m":71.9,"y":128.6},{"t":"L","m":80.02,"y":128.8}]},"mark":{"type":"point","filled":true,"size":1024,"color":"#1a1a18","opacity":1},"encoding":{"shape":{"field":"t","type":"nominal","scale":{"domain":["L","R"],"range":["M0.5,-1L-0.5,0L0.5,1Z","M-0.5,-1L0.5,0L-0.5,1Z"]},"legend":null},"y":{"field":"y","type":"quantitative","scale":{"domain":[0,158.9],"range":[0,1589]},"axis":null}}},
{"data":{"values":[{"id":1,"k":"T","m":-0.1,"h":0.42,"l":-0.42},{"id":1,"k":"T","m":7.87,"h":1,"l":-1},{"id":2,"k":"R","m":7.87,"h":1,"l":-1},{"id":2,"k":"R","m":8.93,"h":0,"l":0},{"id":3,"k":"T","m":8.93,"h":0,"l":0},{"id":3,"k":"T","m":12.18,"h":1,"l":-1},{"id":4,"k":"R","m":12.18,"h":1,"l":-1},{"id":4,"k":"R","m":16.32,"h":0,"l":0},{"id":5,"k":"T","m":16.32,"h":0,"l":0},{"id":5,"k":"T","m":22.27,"h":1,"l":-1},{"id":6,"k":"R","m":22.27,"h":1,"l":-1},{"id":6,"k":"R","m":22.91,"h":0,"l":0},{"id":7,"k":"T","m":22.91,"h":0,"l":0},{"id":7,"k":"T","m":26.96,"h":1,"l":-1},{"id":8,"k":"R","m":26.96,"h":1,"l":-1},{"id":8,"k":"R","m":27.86,"h":0,"l":0},{"id":9,"k":"T","m":27.86,"h":0,"l":0},{"id":9,"k":"T","m":34.28,"h":1,"l":-1},{"id":10,"k":"R","m":34.28,"h":1,"l":-1},{"id":10,"k":"R","m":35.12,"h":0,"l":0},{"id":11,"k":"T","m":35.12,"h":0,"l":0},{"id":11,"k":"T","m":37.72,"h":1,"l":-1},{"id":12,"k":"R","m":37.72,"h":1,"l":-1},{"id":12,"k":"R","m":39.59,"h":0,"l":0},{"id":13,"k":"T","m":39.59,"h":0,"l":0},{"id":13,"k":"T","m":43.69,"h":1,"l":-1},{"id":14,"k":"R","m":43.69,"h":1,"l":-1},{"id":14,"k":"R","m":45.14,"h":0,"l":0},{"id":15,"k":"T","m":45.14,"h":0,"l":0},{"id":15,"k":"T","m":47.08,"h":1,"l":-1},{"id":16,"k":"R","m":47.08,"h":1,"l":-1},{"id":16,"k":"R","m":48.04,"h":0,"l":0},{"id":17,"k":"T","m":48.04,"h":0,"l":0},{"id":17,"k":"T","m":49.58,"h":1,"l":-1},{"id":18,"k":"T","m":49.71,"h":0,"l":0},{"id":18,"k":"T","m":54.04,"h":1,"l":-1},{"id":19,"k":"R","m":54.04,"h":1,"l":-1},{"id":19,"k":"R","m":55.84,"h":0,"l":0},{"id":20,"k":"T","m":55.84,"h":0,"l":0},{"id":20,"k":"T","m":59.38,"h":1,"l":-1},{"id":21,"k":"T","m":59.51,"h":0,"l":0},{"id":21,"k":"T","m":62.46,"h":1,"l":-1},{"id":22,"k":"R","m":62.46,"h":1,"l":-1},{"id":22,"k":"R","m":63.53,"h":0,"l":0},{"id":23,"k":"T","m":63.53,"h":0,"l":0},{"id":23,"k":"T","m":68.38,"h":1,"l":-1},{"id":24,"k":"T","m":68.54,"h":0,"l":0},{"id":24,"k":"T","m":72.55,"h":1,"l":-1},{"id":25,"k":"R","m":72.55,"h":1,"l":-1},{"id":25,"k":"R","m":73.9,"h":0,"l":0},{"id":26,"k":"T","m":73.9,"h":0,"l":0},{"id":26,"k":"T","m":75.0,"h":1,"l":-1},{"id":27,"k":"R","m":75.0,"h":1,"l":-1},{"id":27,"k":"R","m":79.36,"h":0,"l":0}]},"mark":{"type":"area","stroke":"#6f6f6e","strokeWidth":4.5,"strokeJoin":"round","opacity":1},"encoding":{"detail":{"field":"id"},"fill":{"field":"k","type":"nominal","scale":{"domain":["T","R"],"range":["#ffffff","#6f6f6e"]},"legend":null},"y":{"field":"h","type":"quantitative","stack":null,"scale":{"domain":[1,-1],"range":[1390.5,1446]},"axis":null},"y2":{"field":"l"}}},
{"data":{"values":[{"id":1,"k":"T","m":-0.1,"h":0.42,"l":-0.42},{"id":1,"k":"T","m":7.81,"h":1,"l":-1},{"id":2,"k":"R","m":7.81,"h":1,"l":-1},{"id":2,"k":"R","m":16.32,"h":0,"l":0},{"id":3,"k":"T","m":16.32,"h":0,"l":0},{"id":3,"k":"T","m":34.06,"h":1,"l":-1},{"id":4,"k":"R","m":34.06,"h":1,"l":-1},{"id":4,"k":"R","m":39.59,"h":0,"l":0},{"id":5,"k":"T","m":39.59,"h":0,"l":0},{"id":5,"k":"T","m":54.04,"h":1,"l":-1},{"id":6,"k":"R","m":54.04,"h":1,"l":-1},{"id":6,"k":"R","m":55.84,"h":0,"l":0},{"id":7,"k":"T","m":55.84,"h":0,"l":0},{"id":7,"k":"T","m":72.45,"h":1,"l":-1},{"id":8,"k":"R","m":72.45,"h":1,"l":-1},{"id":8,"k":"R","m":79.3,"h":0,"l":0}]},"mark":{"type":"area","stroke":"#1a1a18","strokeWidth":5,"strokeJoin":"round","opacity":1},"encoding":{"detail":{"field":"id"},"fill":{"field":"k","type":"nominal","scale":{"domain":["T","R"],"range":["#ffffff","#1a1a18"]},"legend":null},"y":{"field":"h","type":"quantitative","stack":null,"scale":{"domain":[1,-1],"range":[1527,1582.5]},"axis":null},"y2":{"field":"l"}}}
]}
